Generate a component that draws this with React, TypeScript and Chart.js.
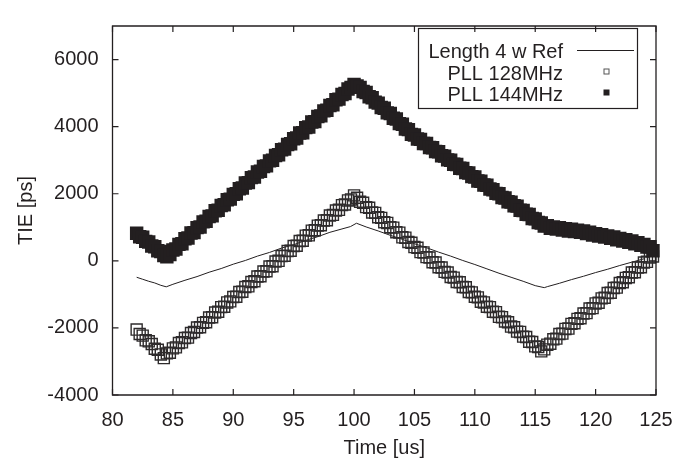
import React, { useEffect, useRef } from 'react';
import { Chart, registerables } from 'chart.js';

Chart.register(...registerables);

// ---- data ----
const times = [
  82, 82.25, 82.5, 82.75, 83, 83.25, 83.5, 83.75, 84, 84.25, 84.5, 84.75,
  85, 85.25, 85.5, 85.75, 86, 86.25, 86.5, 86.75, 87, 87.25, 87.5, 87.75,
  88, 88.25, 88.5, 88.75, 89, 89.25, 89.5, 89.75, 90, 90.25, 90.5, 90.75,
  91, 91.25, 91.5, 91.75, 92, 92.25, 92.5, 92.75, 93, 93.25, 93.5, 93.75,
  94, 94.25, 94.5, 94.75, 95, 95.25, 95.5, 95.75, 96, 96.25, 96.5, 96.75,
  97, 97.25, 97.5, 97.75, 98, 98.25, 98.5, 98.75, 99, 99.25, 99.5, 99.75,
  100, 100.25, 100.5, 100.75, 101, 101.25, 101.5, 101.75, 102, 102.25, 102.5, 102.75,
  103, 103.25, 103.5, 103.75, 104, 104.25, 104.5, 104.75, 105, 105.25, 105.5, 105.75,
  106, 106.25, 106.5, 106.75, 107, 107.25, 107.5, 107.75, 108, 108.25, 108.5, 108.75,
  109, 109.25, 109.5, 109.75, 110, 110.25, 110.5, 110.75, 111, 111.25, 111.5, 111.75,
  112, 112.25, 112.5, 112.75, 113, 113.25, 113.5, 113.75, 114, 114.25, 114.5, 114.75,
  115, 115.25, 115.5, 115.75, 116, 116.25, 116.5, 116.75, 117, 117.25, 117.5, 117.75,
  118, 118.25, 118.5, 118.75, 119, 119.25, 119.5, 119.75, 120, 120.25, 120.5, 120.75,
  121, 121.25, 121.5, 121.75, 122, 122.25, 122.5, 122.75, 123, 123.25, 123.5, 123.75,
  124, 124.25, 124.5, 124.75,
];

const pll128 = [
  -2050, -2180, -2230, -2370, -2400, -2480, -2620, -2650, -2790, -2900, -2760, -2740,
  -2610, -2580, -2450, -2430, -2300, -2290, -2150, -2120, -1990, -1980, -1850, -1830,
  -1690, -1680, -1540, -1520, -1380, -1370, -1240, -1210, -1080, -1070, -930, -920,
  -780, -760, -630, -610, -470, -460, -320, -310, -170, -160, -20, 0,
  140, 150, 290, 300, 440, 450, 590, 600, 750, 760, 900, 910,
  1050, 1060, 1200, 1210, 1350, 1370, 1500, 1520, 1660, 1680, 1800, 1830,
  1950, 1880, 1760, 1730, 1600, 1580, 1440, 1430, 1300, 1280, 1150, 1130,
  1000, 990, 850, 840, 700, 690, 560, 540, 410, 390, 260, 250,
  110, 100, -40, -50, -190, -200, -330, -350, -480, -500, -630, -640,
  -780, -790, -930, -940, -1070, -1090, -1220, -1240, -1370, -1380, -1520, -1530,
  -1670, -1680, -1810, -1830, -1960, -1980, -2110, -2120, -2260, -2270, -2410, -2420,
  -2550, -2570, -2700, -2640, -2500, -2470, -2340, -2320, -2180, -2170, -2030, -2020,
  -1880, -1860, -1730, -1710, -1570, -1560, -1420, -1410, -1270, -1250, -1120, -1100,
  -960, -950, -810, -800, -660, -640, -510, -490, -350, -340, -200, -190,
  -50, -30, 100, 130,
];

const pll144 = [
  820, 720, 700, 580, 560, 440, 420, 300, 280, 160, 120, 190,
  320, 350, 490, 510, 660, 680, 830, 840, 990, 1010, 1160, 1180,
  1320, 1340, 1490, 1510, 1650, 1670, 1820, 1840, 1980, 2000, 2150, 2170,
  2320, 2330, 2480, 2500, 2650, 2670, 2810, 2830, 2980, 3000, 3140, 3160,
  3310, 3330, 3470, 3490, 3640, 3660, 3810, 3820, 3970, 3990, 4140, 4150,
  4300, 4320, 4470, 4490, 4630, 4650, 4800, 4820, 4960, 4990, 5120, 5170,
  5260, 5210, 5170, 5050, 5020, 4890, 4860, 4730, 4700, 4570, 4550, 4410,
  4390, 4250, 4230, 4090, 4070, 3930, 3910, 3770, 3750, 3630, 3620, 3500,
  3500, 3380, 3370, 3260, 3250, 3130, 3120, 3010, 3000, 2880, 2870, 2760,
  2750, 2630, 2620, 2510, 2500, 2380, 2370, 2260, 2250, 2140, 2120, 2010,
  2000, 1890, 1870, 1760, 1750, 1640, 1630, 1510, 1500, 1390, 1380, 1260,
  1250, 1140, 1130, 1040, 1050, 970, 1010, 950, 990, 920, 960, 890,
  940, 870, 910, 850, 890, 810, 850, 770, 810, 740, 780, 710,
  740, 670, 710, 630, 670, 590, 630, 550, 590, 510, 540, 460,
  490, 410, 420, 300,
];

const refTimes = [
  82, 82.5, 83, 83.5, 84, 84.45, 85, 86, 87, 88, 89, 90, 91, 92, 93, 94, 95, 96, 97, 98, 99, 99.7,
  100.2, 101, 102, 103, 104, 105, 106, 107, 108, 109, 110, 111, 112, 113, 114, 115, 115.75,
  116, 117, 118, 119, 120, 121, 122, 123, 124,
];
const refValues = [
  -490, -550, -610, -660, -730, -775, -700, -580, -470, -340, -230, -100, 10, 140, 250, 380, 480, 610, 720, 850, 950, 1020,
  1120, 1010, 890, 760, 640, 510, 390, 260, 140, 10, -110, -240, -370, -490, -610, -740, -800,
  -770, -670, -560, -460, -350, -250, -140, -40, 60,
];

const xTicks = [80, 85, 90, 95, 100, 105, 110, 115, 120, 125];
const yTicks = [-4000, -2000, 0, 2000, 4000, 6000];
const legendLabels = ['Length 4 w Ref', 'PLL 128MHz', 'PLL 144MHz'];
const xTitle = 'Time [us]';
const yTitle = 'TIE [ps]';

const X_MIN = 80;
const X_MAX = 125;
const Y_MIN = -4000;
const Y_MAX = 7000;

const INK = '#231f20';
const FAMILY = '"Liberation Sans", Arial, Helvetica, sans-serif';
const FONT_SIZE = 20;

const framePlugin = {
  id: 'gnuFrame',
  afterDraw(chart: any) {
    const { ctx, chartArea } = chart;
    const { left, right, top, bottom } = chartArea;
    const xs = chart.scales.x;
    const ys = chart.scales.y;
    ctx.save();
    ctx.strokeStyle = INK;
    ctx.lineWidth = 1.3;
    ctx.beginPath();
    ctx.rect(left, top, right - left, bottom - top);
    ctx.stroke();
    ctx.lineWidth = 1.2;
    const tl = 6;
    ctx.beginPath();
    xTicks.forEach((v) => {
      const px = xs.getPixelForValue(v);
      ctx.moveTo(px, bottom);
      ctx.lineTo(px, bottom - tl);
      ctx.moveTo(px, top);
      ctx.lineTo(px, top + tl);
    });
    yTicks.forEach((v) => {
      const py = ys.getPixelForValue(v);
      ctx.moveTo(left, py);
      ctx.lineTo(left + tl, py);
      ctx.moveTo(right, py);
      ctx.lineTo(right - tl, py);
    });
    ctx.stroke();

    // legend (gnuplot style: right-aligned text, sample on the right)
    const boxL = 418.5, boxT = 28.5, boxR = 637.5, boxB = 108.5;
    ctx.lineWidth = 1.2;
    ctx.strokeRect(boxL, boxT, boxR - boxL, boxB - boxT);
    ctx.fillStyle = INK;
    ctx.font = `${FONT_SIZE}px ${FAMILY}`;
    ctx.textAlign = 'right';
    ctx.textBaseline = 'alphabetic';
    const textRight = 563;
    const baselines = [57.5, 79.5, 101];
    legendLabels.forEach((lab, i) => {
      ctx.fillText(lab, textRight, baselines[i]);
    });
    const sampleX = 606.5;
    ctx.lineWidth = 1;
    ctx.beginPath();
    ctx.moveTo(577, 50.5);
    ctx.lineTo(634, 50.5);
    ctx.stroke();
    ctx.strokeStyle = '#555';
    ctx.strokeRect(sampleX - 2.5, 71.5 - 2.5, 5, 5);
    ctx.fillStyle = INK;
    ctx.fillRect(sampleX - 3, 92.5 - 3, 6, 6);
    ctx.restore();
  },
};

export default function App() {
  const canvasRef = useRef<HTMLCanvasElement | null>(null);

  useEffect(() => {
    const canvas = canvasRef.current;
    if (!canvas) return;
    const font = { family: FAMILY, size: FONT_SIZE };
    const chart = new Chart(canvas, {
      type: 'scatter',
      data: {
        datasets: [
          {
            label: legendLabels[2],
            data: times.map((t, i) => ({ x: t, y: pll144[i] })),
            pointStyle: 'rect',
            pointRadius: 9.5,
            pointHoverRadius: 9.5,
            backgroundColor: INK,
            borderColor: INK,
            borderWidth: 0,
            showLine: false,
            order: 0,
            clip: 14,
          },
          {
            label: legendLabels[1],
            data: times.map((t, i) => ({ x: t, y: pll128[i] })),
            pointStyle: 'rect',
            pointRadius: 7.8,
            pointHoverRadius: 7.8,
            backgroundColor: 'rgba(0,0,0,0)',
            borderColor: '#2e2b2c',
            borderWidth: 1.4,
            showLine: false,
            order: 1,
            clip: 14,
          },
          {
            label: legendLabels[0],
            data: refTimes.map((t, i) => ({ x: t, y: refValues[i] })),
            showLine: true,
            pointRadius: 0,
            pointHoverRadius: 0,
            borderColor: INK,
            borderWidth: 1,
            backgroundColor: INK,
            tension: 0,
            order: 2,
          },
        ],
      },
      options: {
        responsive: false,
        animation: false,
        devicePixelRatio: 1,
        events: [],
        layout: { padding: { top: 7, right: 35, left: 0, bottom: 0 } },
        plugins: {
          legend: { display: false },
          tooltip: { enabled: false },
        },
        scales: {
          x: {
            type: 'linear',
            min: X_MIN,
            max: X_MAX,
            afterBuildTicks: (s: any) => {
              s.ticks = xTicks.map((v) => ({ value: v }));
            },
            afterFit: (s: any) => {
              s.height = 70;
            },
            grid: { display: false, drawTicks: false },
            border: { display: false },
            ticks: {
              padding: 13,
              font,
              color: INK,
              maxRotation: 0,
              autoSkip: false,
              callback: (v: any) => String(v),
            },
            title: {
              display: true,
              text: xTitle,
              font,
              color: INK,
              padding: { top: 0, bottom: 5 },
            },
          },
          y: {
            type: 'linear',
            min: Y_MIN,
            max: Y_MAX,
            afterBuildTicks: (s: any) => {
              s.ticks = yTicks.map((v) => ({ value: v }));
            },
            afterFit: (s: any) => {
              s.width = 112.5;
            },
            grid: { display: false, drawTicks: false },
            border: { display: false },
            ticks: {
              padding: 14,
              font,
              color: INK,
              autoSkip: false,
              callback: (v: any) => String(v),
            },
            title: {
              display: true,
              text: yTitle,
              font,
              color: INK,
              padding: { top: 14, bottom: 0 },
            },
          },
        },
      } as any,
      plugins: [framePlugin],
    });
    return () => chart.destroy();
  }, []);

  return (
    <div style={{ position: 'absolute', left: 0, top: 0, width: 691, height: 465, background: '#fff' }}>
      <canvas ref={canvasRef} width={691} height={465} style={{ display: 'block', width: 691, height: 465 }} />
    </div>
  );
}
